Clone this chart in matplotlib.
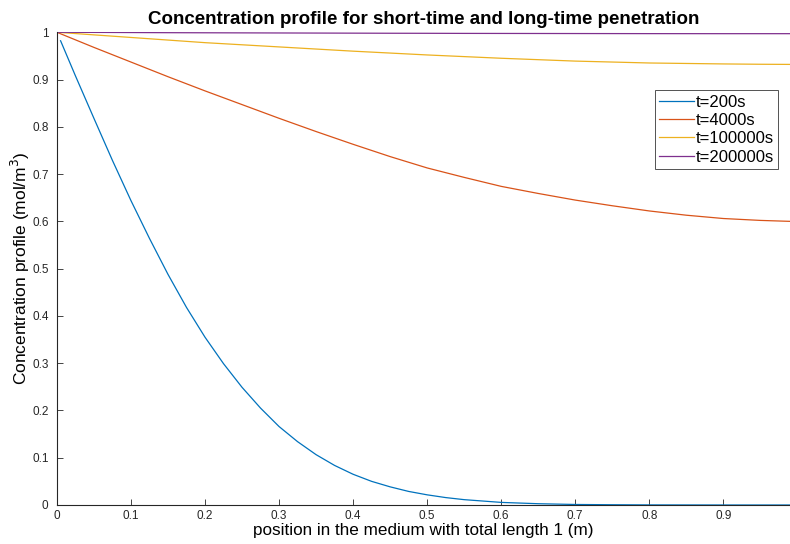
import matplotlib
matplotlib.use('Agg')
import matplotlib.pyplot as plt
import numpy as np

plt.rcParams['font.family'] = ['Liberation Sans', 'DejaVu Sans']

# position in the medium (m) and concentration
x_blue = [0.005, 0.025, 0.05, 0.075, 0.1, 0.125, 0.15, 0.175, 0.2, 0.225, 0.25, 0.275,
          0.3, 0.325, 0.35, 0.375, 0.4, 0.425, 0.45, 0.475, 0.5, 0.525, 0.55, 0.6,
          0.65, 0.7, 0.75, 0.8, 0.9, 0.99]
c_200 = [0.982, 0.908, 0.818, 0.729, 0.644, 0.564, 0.488, 0.418, 0.355, 0.299, 0.249, 0.205,
         0.166, 0.134, 0.1065, 0.0837, 0.065, 0.050, 0.0384, 0.0287, 0.0215, 0.0157, 0.0113, 0.0055,
         0.0027, 0.0011, 0.00055, 0.0002, 0.00002, 0.0]

x_long = [0.0, 0.05, 0.1, 0.15, 0.2, 0.25, 0.3, 0.35, 0.4, 0.45, 0.5,
          0.55, 0.6, 0.65, 0.7, 0.75, 0.8, 0.85, 0.9, 0.95, 0.99]
c_4000 = [1.0, 0.968, 0.937, 0.906, 0.876, 0.847, 0.818, 0.790, 0.763, 0.737, 0.713,
          0.693, 0.674, 0.659, 0.645, 0.633, 0.622, 0.613, 0.606, 0.602, 0.600]
c_100000 = [1.0, 0.9945, 0.989, 0.9835, 0.978, 0.9735, 0.969, 0.9645, 0.960, 0.956, 0.952,
            0.9485, 0.945, 0.942, 0.939, 0.937, 0.935, 0.934, 0.933, 0.9323, 0.932]
c_200000 = [1.0, 0.9997, 0.9994, 0.9991, 0.9989, 0.9987, 0.9985, 0.9983, 0.9981, 0.9979, 0.9978,
            0.9976, 0.9975, 0.9974, 0.9973, 0.9972, 0.9971, 0.99705, 0.9970, 0.9970, 0.9970]

labels = ['t=200s', 't=4000s', 't=100000s', 't=200000s']
colors = ['#0072BD', '#D95319', '#EDB120', '#7E2F8E']

fig = plt.figure(figsize=(7.9, 5.44), dpi=100)
ax = fig.add_axes([0.072, 0.0717, 0.928, 0.869])

ax.plot(x_blue, c_200, color=colors[0], lw=0.9, label=labels[0])
ax.plot(x_long, c_4000, color=colors[1], lw=0.9, label=labels[1])
ax.plot(x_long, c_100000, color=colors[2], lw=0.9, label=labels[2])
ax.plot(x_long, c_200000, color=colors[3], lw=0.9, label=labels[3])

ax.set_xlim(0, 0.99)
ax.set_ylim(0, 1)
ax.set_xticks(np.arange(0, 1.0, 0.1))
ax.set_xticklabels(['0', '0.1', '0.2', '0.3', '0.4', '0.5', '0.6', '0.7', '0.8', '0.9'])
ax.set_yticks(np.arange(0, 1.01, 0.1))
ax.set_yticklabels(['0', '0.1', '0.2', '0.3', '0.4', '0.5', '0.6', '0.7', '0.8', '0.9', '1'])
ax.tick_params(direction='in', length=4, width=0.6, labelsize=8.5, colors='#262626')
ax.tick_params(axis='y', pad=6)
for s in ['top', 'right']:
    ax.spines[s].set_visible(False)
for s in ['left', 'bottom']:
    ax.spines[s].set_linewidth(0.8)
    ax.spines[s].set_color('#262626')

ax.set_title('Concentration profile for short-time and long-time penetration',
             fontsize=13.5, fontweight='bold', pad=6)
ax.set_xlabel('position in the medium with total length 1 (m)', fontsize=12.3, labelpad=1)
ax.set_ylabel('Concentration profile (mol/m$^3$)', fontsize=12.5, labelpad=0)

leg = ax.legend(loc='upper right', bbox_to_anchor=(0.984, 0.877), fontsize=12,
                frameon=True, fancybox=False, borderpad=0.25, labelspacing=0.2,
                handlelength=2.1, handletextpad=0.1, borderaxespad=0)
leg.get_frame().set_edgecolor('#262626')
leg.get_frame().set_linewidth(0.7)

fig.savefig('out.png', dpi=100)
